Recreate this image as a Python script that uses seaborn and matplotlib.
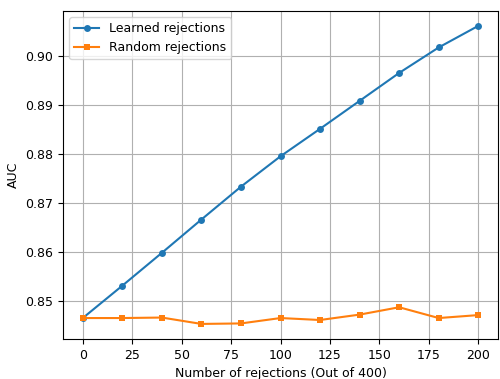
import matplotlib
matplotlib.use("Agg")
import matplotlib.pyplot as plt
import seaborn as sns
import pandas as pd

rejections = [0, 20, 40, 60, 80, 100, 120, 140, 160, 180, 200]
learned = [0.8465, 0.8531, 0.8598, 0.8666, 0.8733, 0.8795, 0.8851, 0.8908, 0.8965, 0.9017, 0.9061]
random_rej = [0.8465, 0.8465, 0.8466, 0.8453, 0.8454, 0.8465, 0.8461, 0.8472, 0.8487, 0.8465, 0.8471]

plt.rcParams["font.size"] = 9

df = pd.DataFrame({
    "x": rejections * 2,
    "AUC": learned + random_rej,
    "series": ["Learned rejections"] * len(rejections) + ["Random rejections"] * len(rejections),
})

fig, ax = plt.subplots(figsize=(5, 3.79), dpi=100)
sns.lineplot(data=df, x="x", y="AUC", hue="series", style="series",
             markers={"Learned rejections": "o", "Random rejections": "s"},
             dashes=False, palette=["#1f77b4", "#ff7f0e"], markersize=5,
             markeredgewidth=0, ax=ax)
ax.grid(True, color="#b0b0b0", linewidth=0.8)
ax.set_axisbelow(True)
ax.set_xlabel("Number of rejections (Out of 400)")
ax.set_ylabel("AUC")
ax.legend(title=None, loc="upper left")
ax.set_xticks([0, 25, 50, 75, 100, 125, 150, 175, 200])
ax.set_yticks([0.85, 0.86, 0.87, 0.88, 0.89, 0.90])
fig.subplots_adjust(left=0.126, right=0.996, top=0.971, bottom=0.106)
fig.savefig("out.png", dpi=100)
